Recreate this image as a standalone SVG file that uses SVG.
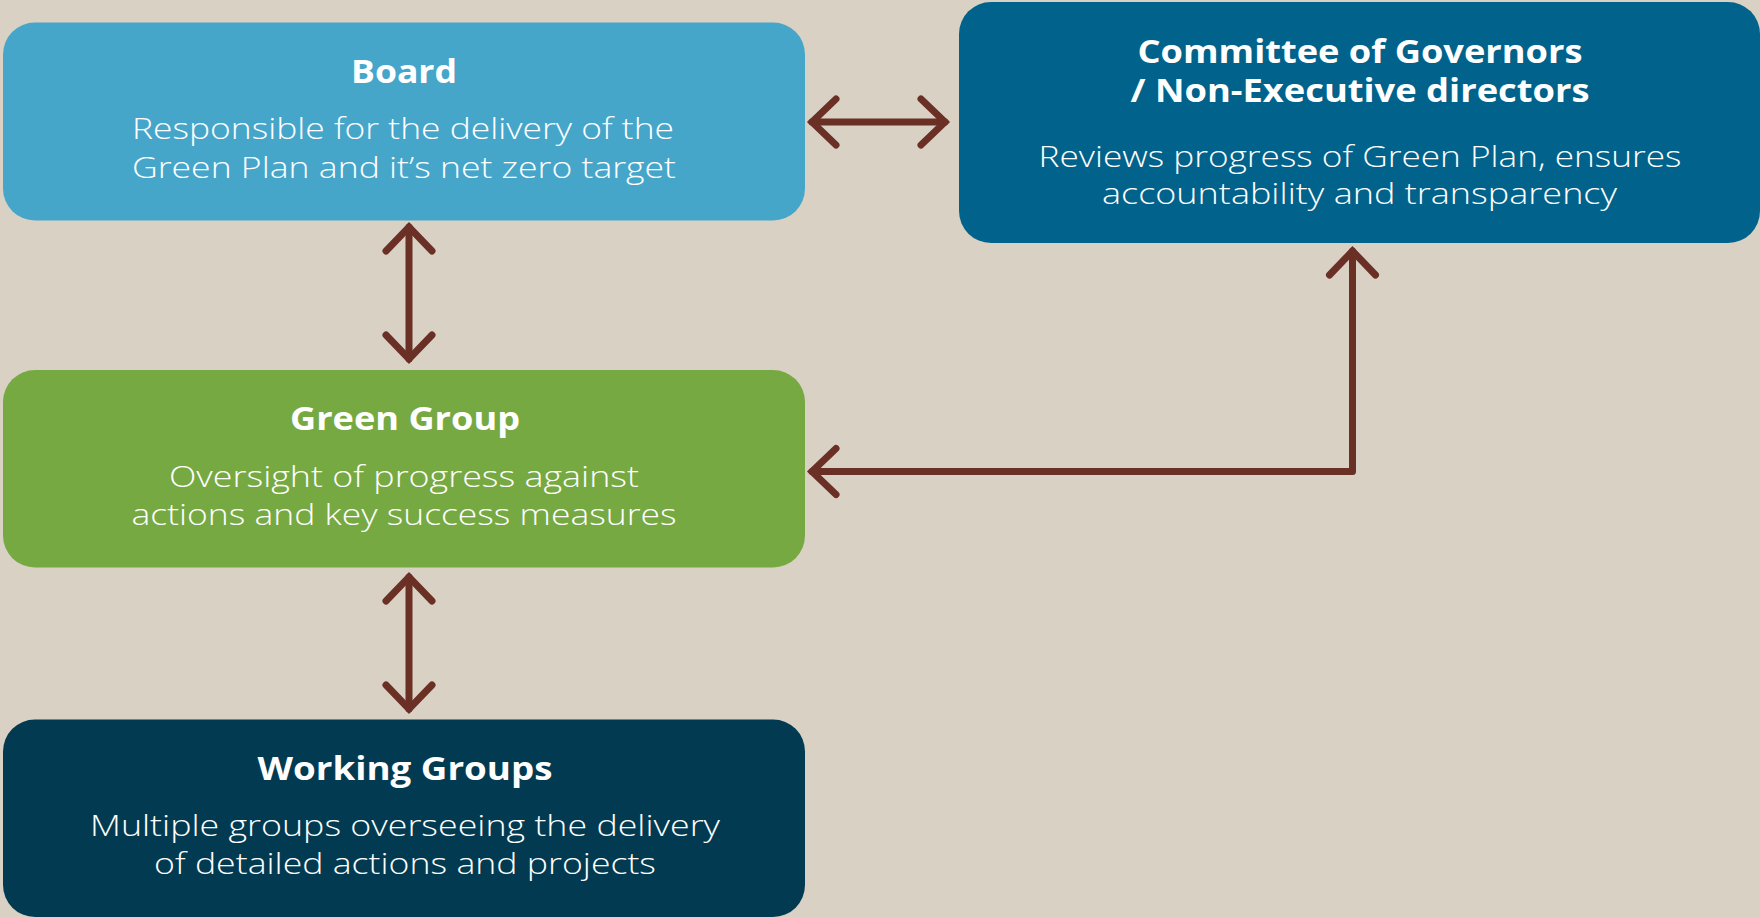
<svg xmlns="http://www.w3.org/2000/svg" width="1760" height="917" viewBox="0 0 1760 917">
  <style>
    .box { stroke: none; }
    .title { font-family: "Open Sans", "Liberation Sans", sans-serif; font-weight: 700; font-size: 32px; fill: #ffffff; text-anchor: middle; }
    .body { font-family: "Open Sans", "Liberation Sans", sans-serif; font-weight: 300; font-size: 30px; fill: #ffffff; text-anchor: middle; }
    .link { fill: none; stroke: #6a2f25; stroke-width: 7; stroke-linecap: round; stroke-linejoin: round; }
  </style>
  <defs>
    <marker id="head" viewBox="-32 -30 40 60" refX="0" refY="0" markerWidth="40" markerHeight="60" markerUnits="userSpaceOnUse" orient="auto-start-reverse">
      <path d="M-24,-23 L0,0 L-24,23" fill="none" stroke="#6a2f25" stroke-width="7" stroke-linecap="round" stroke-linejoin="miter"/>
    </marker>
  </defs>

  <!-- background -->
  <rect x="0" y="0" width="1760" height="917" fill="#d9d1c4"/>

  <!-- connectors -->
  <g id="connectors">
    <line class="link" x1="812" y1="122" x2="945" y2="122" marker-start="url(#head)" marker-end="url(#head)"/>
    <line class="link" x1="409" y1="227" x2="409" y2="359" marker-start="url(#head)" marker-end="url(#head)"/>
    <line class="link" x1="409" y1="577" x2="409" y2="709" marker-start="url(#head)" marker-end="url(#head)"/>
    <path class="link" d="M812,471.5 H1352.5 V251" marker-start="url(#head)" marker-end="url(#head)"/>
  </g>

  <!-- Board -->
  <g id="board">
    <rect class="box" x="3" y="22.5" width="802" height="198" rx="32" fill="#46a6ca"/>
    <text class="title" x="404" y="83" textLength="106" lengthAdjust="spacingAndGlyphs">Board</text>
    <text class="body" x="403" y="139" textLength="542" lengthAdjust="spacingAndGlyphs">Responsible for the delivery of the</text>
    <text class="body" x="404" y="178" textLength="544" lengthAdjust="spacingAndGlyphs">Green Plan and it’s net zero target</text>
  </g>

  <!-- Committee of Governors -->
  <g id="committee">
    <rect class="box" x="959" y="2" width="801" height="241" rx="32" fill="#01638b"/>
    <text class="title" x="1360" y="63" textLength="445" lengthAdjust="spacingAndGlyphs">Committee of Governors</text>
    <text class="title" x="1360" y="102" textLength="459" lengthAdjust="spacingAndGlyphs">/ Non-Executive directors</text>
    <text class="body" x="1360" y="167" textLength="643" lengthAdjust="spacingAndGlyphs">Reviews progress of Green Plan, ensures</text>
    <text class="body" x="1359.5" y="204" textLength="515" lengthAdjust="spacingAndGlyphs">accountability and transparency</text>
  </g>

  <!-- Green Group -->
  <g id="green-group">
    <rect class="box" x="3" y="370" width="802" height="197.5" rx="32" fill="#77a942"/>
    <text class="title" x="405" y="430" textLength="230" lengthAdjust="spacingAndGlyphs">Green Group</text>
    <text class="body" x="404" y="487" textLength="470" lengthAdjust="spacingAndGlyphs">Oversight of progress against</text>
    <text class="body" x="404" y="525" textLength="545" lengthAdjust="spacingAndGlyphs">actions and key success measures</text>
  </g>

  <!-- Working Groups -->
  <g id="working-groups">
    <rect class="box" x="3" y="719.5" width="802" height="197.5" rx="32" fill="#023b51"/>
    <text class="title" x="405" y="780" textLength="295" lengthAdjust="spacingAndGlyphs">Working Groups</text>
    <text class="body" x="405" y="836" textLength="630" lengthAdjust="spacingAndGlyphs">Multiple groups overseeing the delivery</text>
    <text class="body" x="405" y="874" textLength="502" lengthAdjust="spacingAndGlyphs">of detailed actions and projects</text>
  </g>
</svg>
